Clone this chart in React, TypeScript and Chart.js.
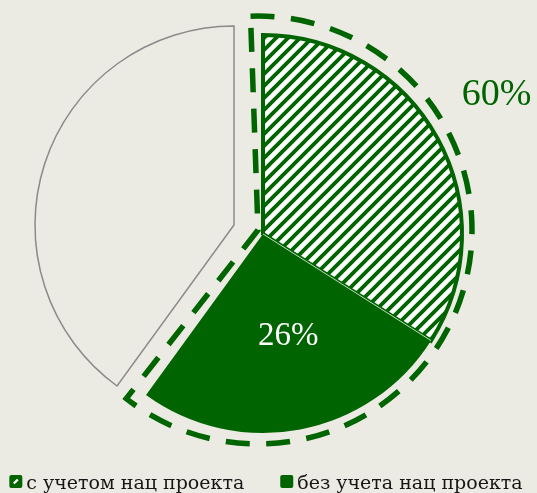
import React, { useEffect, useRef } from 'react';
import { Chart, registerables } from 'chart.js';

Chart.register(...registerables);

// ---- data ----
const categories: string[] = ['с учетом нац проекта', 'без учета нац проекта', 'прочее'];
const values: number[] = [34, 26, 40];
const legendLabels: string[] = ['с учетом нац проекта', 'без учета нац проекта'];

// ---- styles ----
const GREEN = '#006400';
const BG = '#ecebe3';
const GRAY = '#8a8a8a';
const SERIF = '"Liberation Serif", "DejaVu Serif", serif';
const LEGEND_SERIF = '"DejaVu Serif", "Liberation Serif", serif';

// group (first two slices) shift and dashed outline settings
const GROUP_DX = 29;
const GROUP_DY = 9;
const DASH_DX = 24;
const DASH_DY = 5;
const DASH_EXTRA_R = 15;
const DASH_PAD = (2 * Math.PI) / 180;
const DASH_LEN = 24;
const DASH_GAP = 17;
const DASH_END_GAP = 12;

function makePattern(): CanvasPattern | string {
  const s = 12;
  const c = document.createElement('canvas');
  c.width = s;
  c.height = s;
  const g = c.getContext('2d');
  if (!g) return GREEN;
  g.fillStyle = '#ffffff';
  g.fillRect(0, 0, s, s);
  g.strokeStyle = GREEN;
  g.lineWidth = 3.8;
  g.lineCap = 'square';
  g.beginPath();
  g.moveTo(-2, 2);
  g.lineTo(2, -2);
  g.moveTo(0, s);
  g.lineTo(s, 0);
  g.moveTo(s - 2, s + 2);
  g.lineTo(s + 2, s - 2);
  g.stroke();
  const p = g.createPattern(c, 'repeat');
  return p || GREEN;
}

const customDraw = {
  id: 'customDraw',
  beforeDatasetDraw(chart: any, args: any) {
    const meta = chart.getDatasetMeta(args.index);
    const ctx: CanvasRenderingContext2D = chart.ctx;
    const arcs = meta.data as any[];
    if (!arcs.length) return false;
    const a0 = arcs[0];
    const a1 = arcs[1];

    // dashed outline around the group
    {
      const cx = a0.x + DASH_DX;
      const cy = a0.y + DASH_DY;
      const R = a0.outerRadius + DASH_EXTRA_R;
      const s = a0.startAngle - DASH_PAD;
      const e = a1.endAngle + DASH_PAD;
      const L = R * (e - s) + 2 * R;
      const n = Math.max(1, Math.round((L - DASH_LEN - DASH_END_GAP) / (DASH_LEN + DASH_GAP)));
      const period = (L - DASH_LEN - DASH_END_GAP) / n;
      ctx.save();
      ctx.beginPath();
      ctx.moveTo(cx + R * Math.cos(s), cy + R * Math.sin(s));
      ctx.arc(cx, cy, R, s, e);
      ctx.lineTo(cx, cy);
      ctx.closePath();
      ctx.setLineDash([DASH_LEN, period - DASH_LEN]);
      ctx.lineDashOffset = 0;
      ctx.lineWidth = 5.5;
      ctx.strokeStyle = GREEN;
      ctx.lineJoin = 'miter';
      ctx.stroke();
      ctx.restore();
    }

    // arcs: remaining slice first, then the shifted group
    const order = [2, 0, 1];
    for (const i of order) {
      const arc = arcs[i];
      if (!arc) continue;
      ctx.save();
      if (i < 2) ctx.translate(GROUP_DX, GROUP_DY);
      arc.draw(ctx, chart.chartArea);
      ctx.restore();
    }

    // thin light separator between the two group slices
    {
      const ang = a1.startAngle;
      const cx = a1.x + GROUP_DX;
      const cy = a1.y + GROUP_DY;
      ctx.save();
      ctx.beginPath();
      ctx.moveTo(cx, cy);
      ctx.lineTo(cx + a1.outerRadius * Math.cos(ang), cy + a1.outerRadius * Math.sin(ang));
      ctx.strokeStyle = 'rgba(255,255,255,0.75)';
      ctx.lineWidth = 1;
      ctx.stroke();
      ctx.restore();
    }
    return false;
  },
  afterDraw(chart: any) {
    const meta = chart.getDatasetMeta(0);
    const arcs = meta.data as any[];
    if (!arcs.length) return;
    const ctx: CanvasRenderingContext2D = chart.ctx;
    const a0 = arcs[0];
    const a1 = arcs[1];

    ctx.save();
    ctx.textAlign = 'center';
    ctx.textBaseline = 'middle';

    // value label inside second slice
    {
      const mid = (a1.startAngle + a1.endAngle) / 2 - (3 * Math.PI) / 180;
      const d = a1.outerRadius * 0.53;
      ctx.fillStyle = '#ffffff';
      ctx.font = `33px ${SERIF}`;
      ctx.fillText(
        `${values[1]}%`,
        a1.x + GROUP_DX + d * Math.cos(mid),
        a1.y + GROUP_DY + d * Math.sin(mid)
      );
    }
    // group total label outside
    {
      const mid = (a0.startAngle + a0.endAngle) / 2 - (2 * Math.PI) / 180;
      const d = a0.outerRadius + 73;
      ctx.fillStyle = GREEN;
      ctx.font = `38px ${SERIF}`;
      ctx.fillText(
        `${values[0] + values[1]}%`,
        a0.x + GROUP_DX + d * Math.cos(mid),
        a0.y + GROUP_DY + d * Math.sin(mid)
      );
    }
    ctx.restore();

    // legend
    ctx.save();
    ctx.font = `19px ${LEGEND_SERIF}`;
    ctx.textBaseline = 'alphabetic';
    ctx.textAlign = 'left';
    const box = 13;
    const gap = 4;
    const spacing = 36;
    const widths = legendLabels.map((t) => box + gap + ctx.measureText(t).width);
    const total = widths.reduce((a, b) => a + b, 0) + spacing * (widths.length - 1);
    let x = 266 - total / 2;
    const baseY = 489;
    const boxY = 475;
    legendLabels.forEach((t, i) => {
      ctx.fillStyle = GREEN;
      ctx.beginPath();
      if ((ctx as any).roundRect) (ctx as any).roundRect(x, boxY, box, box, 2);
      else ctx.rect(x, boxY, box, box);
      ctx.fill();
      if (i === 0) {
        ctx.save();
        ctx.strokeStyle = '#ffffff';
        ctx.lineWidth = 2.4;
        ctx.beginPath();
        ctx.moveTo(x + 4.5, boxY + 8.5);
        ctx.lineTo(x + 8.5, boxY + 4.5);
        ctx.stroke();
        ctx.restore();
      }
      ctx.fillStyle = '#161616';
      ctx.fillText(t, x + box + gap, baseY);
      x += widths[i] + spacing;
    });
    ctx.restore();
  },
};

export default function App() {
  const ref = useRef<HTMLCanvasElement | null>(null);

  useEffect(() => {
    const canvas = ref.current;
    if (!canvas) return;
    const pattern = makePattern();
    const chart = new Chart(canvas, {
      type: 'pie',
      data: {
        labels: categories,
        datasets: [
          {
            data: values,
            backgroundColor: [pattern as any, GREEN, BG],
            borderColor: [GREEN, GREEN, GRAY],
            borderWidth: [4, 0, 1.5],
            borderJoinStyle: 'miter',
            radius: 199,
            hoverOffset: 0,
          } as any,
        ],
      },
      options: {
        animation: false,
        responsive: false,
        maintainAspectRatio: false,
        devicePixelRatio: 1,
        events: [],
        layout: { padding: { left: 0, top: 0, right: 69, bottom: 43 } },
        plugins: {
          legend: { display: false },
          tooltip: { enabled: false },
        },
      } as any,
      plugins: [customDraw as any],
    });
    return () => chart.destroy();
  }, []);

  return (
    <div
      style={{
        position: 'fixed',
        left: 0,
        top: 0,
        width: 537,
        height: 493,
        background: BG,
        overflow: 'hidden',
      }}
    >
      <canvas ref={ref} width={537} height={493} style={{ display: 'block' }} />
    </div>
  );
}
